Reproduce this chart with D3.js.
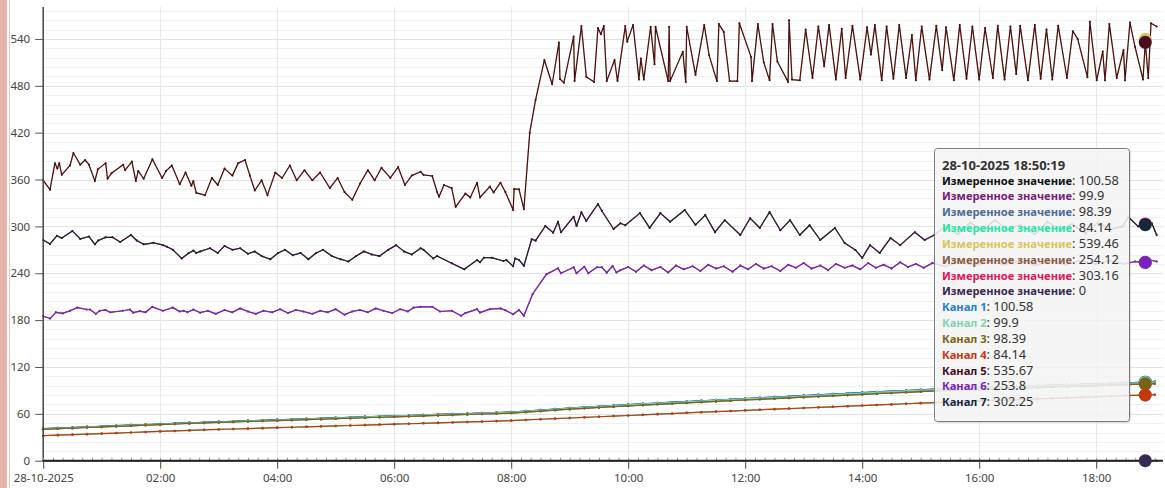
<!DOCTYPE html>
<html><head><meta charset="utf-8">
<script src="https://cdn.jsdelivr.net/npm/d3@7"></script>
<style>
html,body{margin:0;padding:0;background:#fff;}
svg{display:block;}
</style></head><body>
<svg id="chart" width="1165" height="488"></svg>
<script>
// ---------- DATA ----------
const xTickHours = [0, 2, 4, 6, 8, 10, 12, 14, 16, 18];
const xTickLabels = ["28-10-2025", "02:00", "04:00", "06:00", "08:00", "10:00", "12:00", "14:00", "16:00", "18:00"];
const yTickValues = [0, 60, 120, 180, 240, 300, 360, 420, 480, 540];

// minutes after 28-10-2025 00:00 for the slowly rising channels
const slowTimes = [0,15,30,45,60,75,90,105,120,135,150,165,180,195,210,225,240,255,270,285,300,315,330,345,360,375,390,405,420,435,450,465,480,495,510,525,540,555,570,585,600,615,630,645,660,675,690,705,720,735,750,765,780,795,810,825,840,855,870,885,900,915,930,945,960,975,990,1005,1020,1035,1050,1065,1080,1095,1110,1125,1130.32,1140];
const ch1Values = [41.0,41.8,42.5,43.3,44.0,44.8,45.5,46.3,47.0,47.8,48.5,49.2,49.8,50.4,51.1,51.7,52.3,52.9,53.6,54.2,54.8,55.4,56.1,56.7,57.3,57.9,58.6,59.2,59.8,60.4,61.1,61.7,62.3,63.5,64.9,66.2,67.4,68.5,69.6,70.7,71.8,72.9,73.9,74.9,75.8,76.7,77.7,78.6,79.6,80.5,81.5,82.4,83.4,84.3,85.2,86.2,87.1,88.0,89.0,89.9,90.8,91.7,92.4,93.1,93.7,94.3,94.9,95.5,96.1,96.7,97.3,97.9,98.5,99.1,99.7,100.3,100.58,100.9];
const ch2Values = [40.6,41.4,42.2,42.9,43.7,44.4,45.2,45.9,46.7,47.4,48.2,48.9,49.5,50.1,50.8,51.4,52.0,52.6,53.3,53.9,54.5,55.1,55.8,56.4,57.0,57.6,58.3,58.9,59.5,60.1,60.8,61.4,62.0,63.2,64.6,65.9,67.1,68.2,69.3,70.4,71.5,72.5,73.5,74.5,75.4,76.3,77.3,78.2,79.2,80.1,81.0,81.9,82.9,83.8,84.7,85.6,86.6,87.5,88.4,89.3,90.2,91.1,91.8,92.5,93.1,93.7,94.3,94.9,95.5,96.1,96.7,97.3,97.9,98.5,99.1,99.7,99.9,100.2];
const ch3Values = [40.2,41.0,41.7,42.5,43.2,44.0,44.7,45.5,46.2,47.0,47.7,48.4,49.0,49.6,50.2,50.8,51.4,52.0,52.6,53.2,53.8,54.4,55.0,55.6,56.2,56.8,57.4,58.0,58.6,59.2,59.8,60.4,61.0,62.2,63.5,64.8,66.0,67.1,68.2,69.2,70.2,71.2,72.2,73.2,74.1,75.0,75.9,76.8,77.7,78.6,79.5,80.4,81.3,82.2,83.1,84.0,84.9,85.8,86.7,87.6,88.5,89.4,90.1,90.8,91.4,92.0,92.6,93.2,93.8,94.4,95.0,95.6,96.2,96.8,97.4,98.0,98.39,98.7];
const ch4Values = [32.0,32.7,33.4,34.0,34.7,35.4,36.1,36.8,37.5,38.1,38.8,39.5,40.0,40.6,41.1,41.7,42.3,42.8,43.4,44.0,44.5,45.1,45.6,46.2,46.8,47.3,47.9,48.4,49.0,49.6,50.1,50.7,51.3,52.2,53.1,53.9,54.7,55.5,56.3,57.1,57.9,58.7,59.6,60.4,61.3,62.1,62.9,63.6,64.4,65.2,66.0,66.7,67.5,68.3,69.0,69.8,70.6,71.4,72.1,72.9,73.7,74.4,75.1,75.8,76.5,77.1,77.8,78.5,79.2,79.8,80.5,81.2,81.9,82.6,83.3,83.9,84.14,84.5];

// [minutes after midnight, value]
const ch5Points = [[0,359],[7,347],[12,381],[14.5,374],[16.5,381],[19,366],[27.5,378],[31,394],[38,379],[43,385],[47,379],[53,358],[56,373],[64,381],[66,361],[70,368],[82,379],[84,372],[91,383],[95,358],[97.5,371],[103,361],[112,386],[122,362],[126,371],[132,378],[140,354],[146,369],[152,352],[154,358],[157,343],
[166,340],[173,362],[179,353],[186,374],[194,365],[200,381],[207,385],[212,365],[217,346],[224,359],[230,340],[238,369],[245,362],[253,378],[260,359],[268,372],[276,359],[284,369],[294,349],[302,362],[309,344],[317,334],[325,355],[333,372],[340,359],[347,375],[356,362],[364,376],[371,353],[378,365],
[387,370],[390,366],[399,364.5],[404,344],[406,338],[411,353],[419,349],[423,325],[433,342],[438,337],[445,356],[448,337],[458,351],[462,343.5],[469,356],[474,344],[482,321],[483,348],[488,347.5],[493,322],
[499,420],[505,462],[514,513],[522,482],[529,535.6],[530,488.7],[534,484],[544,543],[545,486],[552,556.5],[557,491.6],[565,485],[569,554],[572,546],[575,556.5],[578,486],[586,513],[589,486],[597,556.5],[599,536.5],[605,558],[611,488],[613,515],[616,488],[623,555.6],[627,507.5],[628,555.6],[641,486],[642,555.6],[643,486],[656,523.6],[659,485],[660,555.6],[669,494],[678,558],[683,519],[691,486],[693,559],[698,549],[704,486],[712,486],[714,560],[726,517],[727,486],[733,559],[739,510],[745,487],[748,559],[753,511],[764,485],[765,564],[768,488],[776,487],
[782,552],[789,490],[795,556],[801,505],[806,558],[813,488],[819,553],[823,490],[830,557],[838,488],[845,555],[849,520],[853,558],[860,487],[865,556],[872,489],[878,558],[885,490],[891,545],[895,487],[901,556],[909,488],[916,557],[922,500],[926,555],[934,487],[940,558],[947,489],[953,556],[960,488],[966,554],[974,490],[979,557],[986,488],[992,556],[998,495],[1002,557],[1010,487],[1017,558],[1023,489],[1029,552],[1035,488],[1041,557],[1050,490],[1056,550],[1061,540],[1071,491],[1073.5,562],[1080.5,487],[1086.7,524],[1089,487],[1093.5,559],[1101,490],[1108,526],[1109.5,487],[1114.6,561],[1119.8,530],[1128,488],[1130.32,535.67],[1133.4,490],[1136.2,560],[1142,556]];

const ch6Points = [[0,185],[7,182],[13,190],[20,188.6],[27.5,192],[35,196],[44.6,193.6],[48,193.6],[54,188],[58,192],[64,193],[68.5,190],[81.5,192],[89,193.6],[92.4,189.5],[99,191.5],[105,190],[112,197],[122.6,192],[133,196],[140,191],[144,192],[148,190],[154,193.6],[161,189.5],
[169,192],[177,188],[186,193],[194,190],[202,195],[210,191],[218,188],[226,192],[235,190],[243,194],[251,189],[259,193],[267,191],[276,188],[284,192],[292,190],[300,194],[309,187],[317,191],[325,193],[333,190],[341,195],[349,192],[358,189],[366,194],[374,191],[380,196],
[387,197],[399,197],[407,191],[419,192],[428.5,185.6],[433,189],[445,194],[448,189.6],[458,194],[469,195],[474,192.6],[482,187.4],[488,193],[493,185.6],[502,213.4],[516,238.6],[528,246.3],[531,240],[544,247.6],[547,240],[555,248.4],[559,240],[568,247.6],[573,247.6],[578,240.7],[584,249.3],[588,241],[592,244],
[600,248],[608,242],[616,250],[624,244],[633,248],[641,241],[649,250],[657,245],[666,249],[674,243],[682,251],[690,246],[698,249],[707,242],[715,250],[723,245],[731,252],[739,246],[747,249],[756,243],[764,251],[772,247],[780,253],[788,246],[797,250],[805,244],[813,252],[822,247],[830,250],[838,245],[846,253],[854,247],[862,251],[870,246],[879,254],[887,248],[895,252],[903,247],[912,253],[925,249],[940,254],[956,250],[971,255],[986,251],[1002,256],[1017,250],[1032,255],[1048,251],[1063,256],[1079,252],[1094,256],[1109,252],[1120,255],[1130.32,253.8],[1135,257],[1142,255]];

const ch7Points = [[0,282.5],[7,277.5],[14,288],[19,285],[30,294],[38,284],[47,287],[53,277],[56.5,282],[64,286],[71,286],[79,280],[90,289],[96,282],[103,277],[113,279],[123,276],[127,274],[133,270],[142,259],[149,265.5],[154,269],[157,266],[161,268],
[171,272],[179,266],[186,275],[194,270],[202,272],[210,265],[217,268],[224,262],[233,258],[241,266],[248,270],[256,263],[264,266],[272,258],[280,266],[287,270],[296,262],[305,258],[313,255],[321,262],[329,268],[337,264],[345,262],[354,270],[362,276],[370,268],[378,264],
[387,272],[390,270],[400,259],[404,262],[419,252.7],[432,245],[445,257],[448,254],[452,260],[460,260],[472,255.7],[475,257],[482,249],[484,259],[488,257],[493,249.6],[501,283.5],[505,281.7],[515,300.5],[523,292],[528,306],[531,292.4],[544,312.4],[547,300.5],[552,318],[557,307],[569,328.7],[573,319.7],[585,296.7],[592,304],
[597,301.5],[612,317],[622,298],[633,317],[643,306],[658,321],[669,302],[679,314.5],[689,292.6],[699,308],[715,289],[725,310.5],[735,298],[745,318.5],[756,295],[766,308],[776,289],[786,301.5],[797,282.6],[812,298],[822,278.7],[833,269.8],[840,259.6],[848,276],[858,266],[869,285],[879,276],[894,292.6],[904,282.6],[914,289],
[925,300],[938,290],[951,305],[963,294],[976,308],[989,296],[1002,302],[1017,290],[1030,306],[1043,296],[1055,303],[1069,291],[1082,305],[1094,296],[1107,300],[1113,312],[1123,300],[1130.32,302.25],[1137,304],[1142,289]];

const zeroPoints = [[0,0],[1130.32,0],[1142,0]];

const tooltipTime = "28-10-2025 18:50:19";
const measuredNames = ["Измеренное значение","Измеренное значение","Измеренное значение","Измеренное значение","Измеренное значение","Измеренное значение","Измеренное значение","Измеренное значение"];
const measuredValues = [100.58, 99.9, 98.39, 84.14, 539.46, 254.12, 303.16, 0];
const measuredColors = ["#111111","#7a1c7c","#4d6a98","#1ee8a2","#d8c65a","#8a5a3c","#e8135a","#3a2a52"];
const channelNames = ["Канал 1","Канал 2","Канал 3","Канал 4","Канал 5","Канал 6","Канал 7"];
const channelValues = [100.58, 99.9, 98.39, 84.14, 535.67, 253.8, 302.25];
const channelColors = ["#1f80d6","#80d6aa","#7a6412","#c8360e","#4a0b20","#7a22c0","#14283c"];

// ---------- BUILD ----------
const svg = d3.select("#chart");
const base = new Date(2025, 9, 28, 0, 0, 0).getTime();
const T = m => new Date(base + m * 60000);

const x = d3.scaleTime().domain([T(0), T(1148.5)]).range([43.2, 1163]);
const y = d3.scaleLinear().domain([0, 580]).range([460.7, 7.7]);

// left decorative border
svg.append("rect").attr("x", 0).attr("y", 0).attr("width", 7).attr("height", 488).attr("fill", "#e5b3aa");
svg.append("rect").attr("x", 9).attr("y", 0).attr("width", 1).attr("height", 488).attr("fill", "#eccac4");

const plotTop = 7, plotBottom = y(0), plotLeft = x(T(0)), plotRight = 1163;

// grid
const grid = svg.append("g");
const minorY = d3.range(12, 580, 12).filter(v => v % 60 !== 0);
grid.selectAll(".gmin").data(minorY).join("line")
  .attr("x1", plotLeft).attr("x2", plotRight)
  .attr("y1", d => Math.round(y(d)) + 0.5).attr("y2", d => Math.round(y(d)) + 0.5)
  .attr("stroke", "#f0f0f0").attr("stroke-width", 1);
grid.selectAll(".gmaj").data(yTickValues.filter(v => v > 0)).join("line")
  .attr("x1", plotLeft).attr("x2", plotRight)
  .attr("y1", d => Math.round(y(d)) + 0.5).attr("y2", d => Math.round(y(d)) + 0.5)
  .attr("stroke", "#e3e3e3").attr("stroke-width", 1);
grid.selectAll(".gx").data(xTickHours.filter(h => h > 0)).join("line")
  .attr("x1", d => Math.round(x(T(d * 60))) + 0.5).attr("x2", d => Math.round(x(T(d * 60))) + 0.5)
  .attr("y1", plotTop).attr("y2", plotBottom)
  .attr("stroke", "#e8e8e8").attr("stroke-width", 1);

// series
const lineGen = d3.line().x(d => x(T(d[0]))).y(d => y(d[1]));
const slow = vals => slowTimes.map((t, i) => [t, vals[i]]);
const ch1 = slow(ch1Values), ch2 = slow(ch2Values), ch3 = slow(ch3Values), ch4 = slow(ch4Values);
const channelData = [ch1, ch2, ch3, ch4, ch5Points, ch6Points, ch7Points];
const measuredData = [ch1, ch2, ch3, ch4, ch5Points, ch6Points, ch7Points, zeroPoints];

const series = svg.append("g");
function drawSeries(data, color, w, r) {
  series.append("path").datum(data).attr("d", lineGen)
    .attr("fill", "none").attr("stroke", color).attr("stroke-width", w).attr("stroke-linejoin", "round");
  series.append("g").selectAll("circle").data(data).join("circle")
    .attr("cx", d => x(T(d[0]))).attr("cy", d => y(d[1])).attr("r", r).attr("fill", color);
}
measuredData.forEach((d, i) => drawSeries(d, measuredColors[i], 1.2, i < 4 ? 1.3 : 1.0));
channelData.forEach((d, i) => drawSeries(d, channelColors[i], 1.2, i < 4 ? 1.3 : 1.0));

// axes
const axisFont = "'Noto Sans', sans-serif";
const yAxis = d3.axisLeft(y).tickValues(yTickValues).tickSize(8).tickPadding(5).tickFormat(d3.format("d"));
const gy = svg.append("g").attr("transform", `translate(${plotLeft},0)`).call(yAxis);
gy.select(".domain").attr("d", `M0,${plotTop}V${plotBottom}`).attr("stroke", "#444").attr("stroke-width", 1.5);
gy.selectAll(".tick line").attr("stroke", "#555");
gy.selectAll(".tick text").attr("fill", "#444").style("font-family", axisFont).style("font-size", "11.5px");

const minorAxis = d3.axisBottom(x).ticks(d3.timeMinute.every(10)).tickSize(-3).tickFormat("");
const gxm = svg.append("g").attr("transform", `translate(0,${plotBottom})`).call(minorAxis);
gxm.select(".domain").remove();
gxm.selectAll(".tick line").attr("stroke", "#999");

const xAxis = d3.axisBottom(x).tickValues(xTickHours.map(h => T(h * 60))).tickSize(8).tickPadding(5)
  .tickFormat((d, i) => xTickLabels[i]);
const gx = svg.append("g").attr("transform", `translate(0,${plotBottom})`).call(xAxis);
gx.select(".domain").attr("d", `M${plotLeft},0H${plotRight}`).attr("stroke", "#222").attr("stroke-width", 2);
gx.selectAll(".tick line").attr("stroke", "#444");
gx.selectAll(".tick text").attr("fill", "#444").style("font-family", axisFont).style("font-size", "11.5px");

// zero series drawn over axis line
drawSeries(zeroPoints, measuredColors[7], 1.3, 1.0);

// hover markers
const tHover = 1130.32;
const mk = svg.append("g");
measuredValues.forEach((v, i) => {
  mk.append("circle").attr("cx", x(T(tHover))).attr("cy", y(v)).attr("r", 6.5).attr("fill", measuredColors[i]);
});
channelValues.forEach((v, i) => {
  mk.append("circle").attr("cx", x(T(tHover))).attr("cy", y(v)).attr("r", 6.5).attr("fill", channelColors[i]);
});

// tooltip
const tt = svg.append("g").attr("transform", "translate(934,148)");
tt.append("rect").attr("x", 2).attr("y", 2).attr("width", 195).attr("height", 273).attr("rx", 3)
  .attr("fill", "rgba(0,0,0,0.12)");
tt.append("rect").attr("x", 0.5).attr("y", 0.5).attr("width", 195).attr("height", 273).attr("rx", 3)
  .attr("fill", "rgba(248,248,248,0.86)").attr("stroke", "#7a7a7a").attr("stroke-width", 1);
const fontT = "'Noto Sans', 'DejaVu Sans', sans-serif";
tt.append("text").attr("x", 8).attr("y", 21.5).text(tooltipTime)
  .attr("fill", "#333").style("font-family", fontT).style("font-size", "13px").style("font-weight", "bold");
const rows = measuredNames.map((n, i) => ({ name: n, value: measuredValues[i], color: measuredColors[i] }))
  .concat(channelNames.map((n, i) => ({ name: n, value: channelValues[i], color: channelColors[i] })));
rows.forEach((r, i) => {
  const t = tt.append("text").attr("x", 8).attr("y", 36.5 + i * 15.84)
    .style("font-family", fontT);
  t.append("tspan").attr("fill", r.color).style("font-weight", "bold").style("font-size", "11.2px").text(r.name);
  t.append("tspan").attr("fill", "#333").style("font-size", "12.8px").text(": " + r.value);
});
</script>
</body></html>
